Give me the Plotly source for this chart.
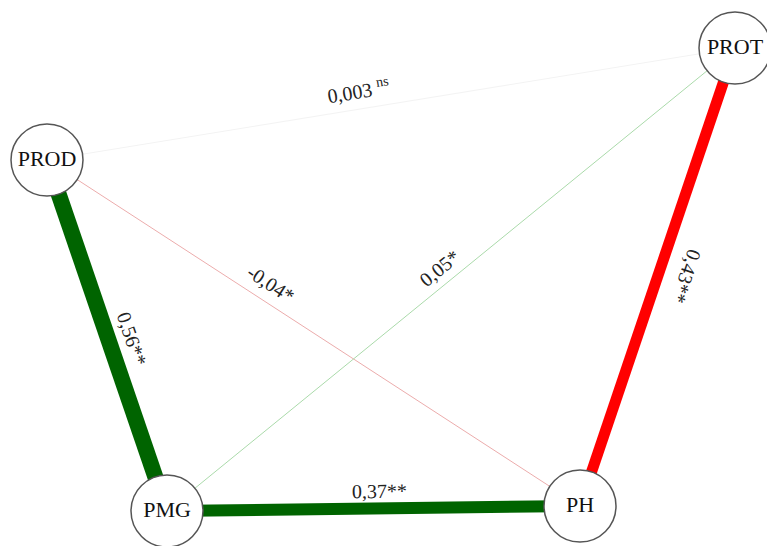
import math
import plotly.graph_objects as go

# Correlation network between four traits
nodes = ["PROD", "PROT", "PMG", "PH"]
edge_source = ["PROD", "PMG", "PH", "PROD", "PROD", "PMG"]
edge_target = ["PMG", "PH", "PROT", "PROT", "PH", "PROT"]
edge_value = [0.56, 0.37, 0.43, 0.003, -0.04, 0.05]
edge_label = ["0,56**", "0,37**", "0,43**", "0,003 <sup>ns</sup>", "-0,04*", "0,05*"]

# Layout (pixel space, y pointing down)
W, H = 767, 546
node_pos = {"PROD": (47, 160), "PROT": (735, 48), "PMG": (167, 511), "PH": (580, 506)}
node_diam = 72

# Edge styling
edge_color = ["#006400", "#006400", "#ff0000",
              "rgb(243,243,243)", "rgb(236,172,172)", "rgb(170,218,170)"]
edge_width = [16, 12, 11, 1, 1, 1]
label_t = [0.53, 0.516, 0.52, 0.457, 0.402, 0.498]      # position along edge
label_off = [-23, -17, 27.5, -19, -18, -16]              # perpendicular offset (px)
label_flip = [False, False, True, False, False, False]

SERIF = "Liberation Serif, Times New Roman, serif"

fig = go.Figure()

for s, t, c, w in zip(edge_source, edge_target, edge_color, edge_width):
    (x0, y0), (x1, y1) = node_pos[s], node_pos[t]
    fig.add_trace(go.Scatter(x=[x0, x1], y=[y0, y1], mode="lines",
                             line=dict(color=c, width=w), hoverinfo="skip",
                             showlegend=False))

fig.add_trace(go.Scatter(
    x=[node_pos[n][0] for n in nodes], y=[node_pos[n][1] for n in nodes],
    mode="markers+text", text=nodes, textposition="middle center",
    textfont=dict(family=SERIF, size=22, color="#111"),
    marker=dict(size=node_diam, color="white", line=dict(color="#555", width=1.5)),
    hoverinfo="skip", showlegend=False))

for s, t, lab, tt, off, flip in zip(edge_source, edge_target, edge_label,
                                    label_t, label_off, label_flip):
    (x0, y0), (x1, y1) = node_pos[s], node_pos[t]
    dx, dy = x1 - x0, y1 - y0
    L = math.hypot(dx, dy)
    ux, uy = dx / L, dy / L
    nx, ny = -uy, ux
    px = x0 + tt * dx + off * nx
    py = y0 + tt * dy + off * ny
    ang = math.degrees(math.atan2(dy, dx))
    if flip:
        ang = ang + 180 if ang < 0 else ang - 180
    fig.add_annotation(x=px, y=py, text=lab, showarrow=False, textangle=ang,
                       font=dict(family=SERIF, size=20, color="#222"),
                       xanchor="center", yanchor="middle")

fig.update_layout(
    width=W, height=H, margin=dict(l=0, r=0, t=0, b=0),
    paper_bgcolor="white", plot_bgcolor="white",
    xaxis=dict(range=[0, W], visible=False, fixedrange=True),
    yaxis=dict(range=[H, 0], visible=False, fixedrange=True),
)

fig.write_html("out.html")
